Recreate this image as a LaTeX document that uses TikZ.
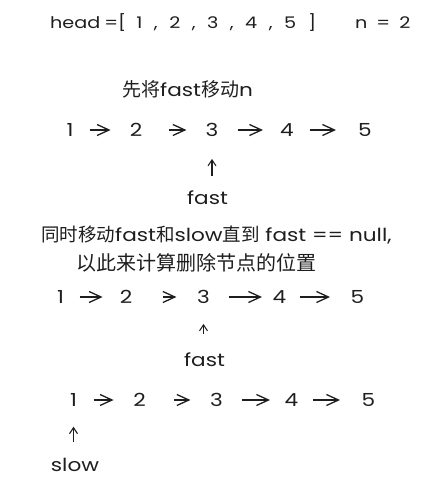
\documentclass[tikz,border=0pt]{standalone}
\usepackage{fontspec}
\setmainfont{Poppins}[FakeStretch=1.2]
\newfontfamily\cjk{Noto Sans CJK SC}
\usetikzlibrary{arrows.meta}
\definecolor{ink}{HTML}{1E1E1E}
\begin{document}
\begin{tikzpicture}[x=1pt,y=-1pt,
  every node/.style={text=ink, inner sep=0pt},
  num/.style={font=\fontsize{18}{20}\selectfont},
  lbl/.style={font=\fontsize{18}{20}\selectfont},
  textline/.style={font=\fontsize{18}{20}\selectfont, anchor=west},
  link/.style={draw=ink, line width=1.3pt, line join=round, -{Straight Barb[length=12pt,width=11pt,line width=1.3pt]}},
  ptr/.style={draw=ink, line width=1.1pt, -{Straight Barb[length=6pt,width=8pt]}}]
\useasboundingbox (0,0) rectangle (425,488);

% title
\node[textline, font=\fontsize{16}{20}\selectfont] (title) at (50,23)
  {\spaceskip=11.5pt\relax head\hspace{4pt}=[\hspace{10pt}1 , 2 , 3 , 4 , 5\hspace{12pt}]};
\node[textline, font=\fontsize{16}{20}\selectfont] (nval) at (355,23) {\spaceskip=9pt\relax n = 2};

% step 1
\node[textline] (step1) at (122,89) {{\cjk\fontsize{19}{20}\selectfont 先将}fast{\cjk\fontsize{19}{20}\selectfont 移动}n};
\node[num] (a1) at (70,130) {1};
\node[num] (a2) at (136,130) {2};
\node[num] (a3) at (212,130) {3};
\node[num] (a4) at (287,130) {4};
\node[num] (a5) at (365,130) {5};
\draw[link, shorten <=16pt, shorten >=19pt] (a1) -- (a2);
\draw[link, shorten <=27pt, shorten >=19pt] (a2) -- (a3);
\draw[link, shorten <=19pt, shorten >=17pt] (a3) -- (a4);
\draw[link, shorten <=16pt, shorten >=22pt] (a4) -- (a5);
\node[lbl] (fast1) at (207.5,198) {fast};
\draw[ptr, shorten <=22pt, shorten >=22pt] (a3 |- fast1) -- (a3);

% step 2
\node[textline] (step2a) at (41,235)
  {{\cjk\fontsize{18.5}{20}\selectfont 同时移动}fast{\cjk\fontsize{18.5}{20}\selectfont 和}slow{\cjk\fontsize{18.5}{20}\selectfont 直到} fast == null,};
\node[textline] (step2b) at (76,263) {\cjk\fontsize{20}{20}\selectfont 以此来计算删除节点的位置};
\node[num] (b1) at (60.5,297) {1};
\node[num] (b2) at (126,297) {2};
\node[num] (b3) at (203.5,297) {3};
\node[num] (b4) at (279.5,297) {4};
\node[num] (b5) at (357.5,297) {5};
\draw[link, shorten <=15.5pt, shorten >=17pt] (b1) -- (b2);
\draw[link, shorten <=31pt, shorten >=20.5pt] (b2) -- (b3);
\draw[link, shorten <=18.5pt, shorten >=10.5pt] (b3) -- (b4);
\draw[link, shorten <=13.5pt, shorten >=20.5pt] (b4) -- (b5);
\node[lbl] (fast2) at (204.5,360) {fast};
\draw[ptr, shorten <=26pt, shorten >=20pt] (b3 |- fast2) -- (b3);

% step 3
\node[num] (c1) at (73.5,400) {1};
\node[num] (c2) at (139.5,400) {2};
\node[num] (c3) at (216.5,400) {3};
\node[num] (c4) at (291.5,400) {4};
\node[num] (c5) at (368.5,400) {5};
\draw[link, shorten <=16.5pt, shorten >=19.5pt] (c1) -- (c2);
\draw[link, shorten <=28.5pt, shorten >=19.5pt] (c2) -- (c3);
\draw[link, shorten <=18.5pt, shorten >=14.5pt] (c3) -- (c4);
\draw[link, shorten <=14.5pt, shorten >=21.5pt] (c4) -- (c5);
\node[lbl] (slow) at (75,465) {slow};
\draw[ptr, shorten <=23pt, shorten >=20pt] (c1 |- slow) -- (c1);
\end{tikzpicture}
\end{document}
